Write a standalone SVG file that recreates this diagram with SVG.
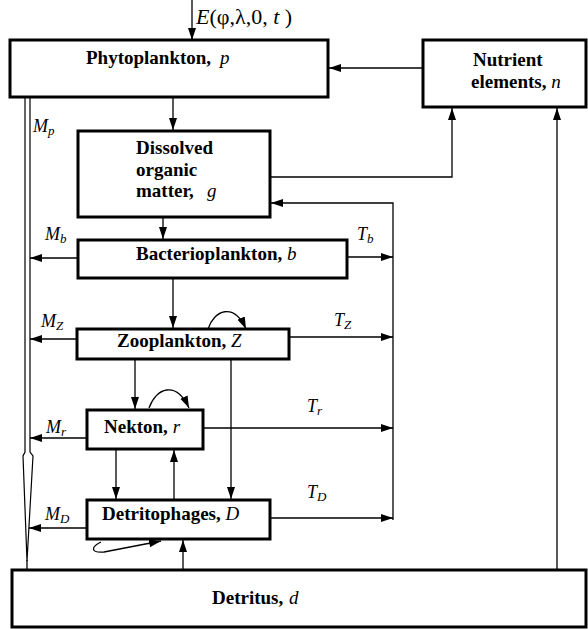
<svg xmlns="http://www.w3.org/2000/svg" width="588" height="630" viewBox="0 0 588 630">
  <style>
    .box { fill: #fff; stroke: #000; stroke-width: 3; }
    .ln { fill: none; stroke: #000; stroke-width: 1.3; }
    .arr { fill: none; stroke: #000; stroke-width: 1.3; marker-end: url(#ah); }
    .t { font-family: "Liberation Serif", "Times New Roman", serif; font-weight: bold; font-size: 19px; fill: #000; }
    .v { font-style: italic; font-weight: normal; }
    .lab { font-family: "Liberation Serif", "Times New Roman", serif; font-style: italic; font-size: 18px; fill: #000; }
    .sub { font-size: 13px; }
  </style>
  <defs>
    <marker id="ah" markerUnits="userSpaceOnUse" markerWidth="14" markerHeight="10" refX="12" refY="4" orient="auto">
      <path d="M0 0 L12 4 L0 8 Z" fill="#000"/>
    </marker>
  </defs>
  <rect width="588" height="630" fill="#fff"/>

  <!-- connectors -->
  <g id="connectors">
    <!-- external forcing -->
    <line class="arr" x1="192" y1="0" x2="192" y2="40"/>
    <!-- nutrients to phytoplankton -->
    <line class="arr" x1="423" y1="68" x2="329" y2="68"/>
    <!-- phytoplankton to DOM -->
    <line class="arr" x1="173" y1="97" x2="173" y2="130"/>
    <!-- DOM to nutrients -->
    <polyline class="arr" points="270,177 452,177 452,108"/>
    <!-- detritus to nutrients -->
    <line class="arr" x1="557" y1="570" x2="557" y2="108"/>
    <!-- transport collector back to DOM -->
    <polyline class="arr" points="393,520 393,203 271,203"/>
    <!-- DOM to bacteria -->
    <line class="arr" x1="163" y1="217" x2="163" y2="239"/>
    <!-- bacteria to zooplankton -->
    <line class="arr" x1="173" y1="278" x2="173" y2="328"/>
    <!-- zooplankton to nekton -->
    <line class="arr" x1="135" y1="359" x2="135" y2="409"/>
    <!-- zooplankton to detritophages -->
    <line class="arr" x1="231" y1="359" x2="231" y2="499"/>
    <!-- nekton to detritophages -->
    <line class="arr" x1="116" y1="449" x2="116" y2="499"/>
    <!-- detritophages to nekton -->
    <line class="arr" x1="174" y1="500" x2="174" y2="450"/>
    <!-- detritus to detritophages -->
    <line class="arr" x1="183" y1="570" x2="183" y2="540"/>
    <!-- self loops -->
    <path class="arr" d="M208 329 C214 310, 234 302, 246 329"/>
    <path class="arr" d="M149 408 C156 388, 176 380, 189 408"/>
    <path class="arr" d="M101 542 C91 547, 90 553, 104 552 L161 541"/>
    <!-- mortality outflows -->
    <line class="arr" x1="78" y1="258" x2="30" y2="258"/>
    <line class="arr" x1="77" y1="339" x2="30" y2="339"/>
    <line class="arr" x1="87" y1="438" x2="30" y2="438"/>
    <line class="arr" x1="87" y1="528" x2="29" y2="528"/>
    <!-- transport outflows -->
    <line class="arr" x1="347" y1="257" x2="393" y2="257"/>
    <line class="arr" x1="289" y1="337" x2="393" y2="337"/>
    <line class="arr" x1="203" y1="428" x2="393" y2="428"/>
    <line class="arr" x1="270" y1="518" x2="393" y2="518"/>
    <!-- mortality channel down to detritus -->
    <path d="M25 97 V452 L23 456 L27 561 L33 456 L30 452 V97" fill="#fff" stroke="#000" stroke-width="1.2"/>
    <line class="ln" x1="27" y1="560" x2="27" y2="570"/>
  </g>

  <!-- nodes -->
  <g id="phytoplankton">
    <rect class="box" x="10" y="40" width="318" height="57"/>
    <text class="t" x="86" y="64" word-spacing="4">Phytoplankton, <tspan class="v">p</tspan></text>
  </g>
  <g id="nutrients">
    <rect class="box" x="423" y="40" width="163" height="67"/>
    <text class="t" x="473" y="66">Nutrient</text>
    <text class="t" x="471" y="88">elements, <tspan class="v">n</tspan></text>
  </g>
  <g id="dom">
    <rect class="box" x="78" y="131" width="192" height="86"/>
    <text class="t" x="136" y="154">Dissolved</text>
    <text class="t" x="136" y="176">organic</text>
    <text class="t" x="136" y="197">matter, <tspan class="v" x="207">g</tspan></text>
  </g>
  <g id="bacterioplankton">
    <rect class="box" x="78" y="240" width="269" height="38"/>
    <text class="t" x="136" y="260">Bacterioplankton, <tspan class="v">b</tspan></text>
  </g>
  <g id="zooplankton">
    <rect class="box" x="77" y="329" width="212" height="30"/>
    <text class="t" x="117" y="347">Zooplankton, <tspan class="v">Z</tspan></text>
  </g>
  <g id="nekton">
    <rect class="box" x="87" y="410" width="116" height="39"/>
    <text class="t" x="104" y="433">Nekton, <tspan class="v">r</tspan></text>
  </g>
  <g id="detritophages">
    <rect class="box" x="87" y="500" width="183" height="39"/>
    <text class="t" x="102" y="520">Detritophages, <tspan class="v">D</tspan></text>
  </g>
  <g id="detritus">
    <rect class="box" x="12" y="570" width="574" height="57"/>
    <text class="t" x="212" y="604">Detritus, <tspan class="v" x="289">d</tspan></text>
  </g>

  <!-- flux labels -->
  <g id="labels">
    <text class="lab" x="196" y="24" style="font-size:22px"><tspan>E</tspan><tspan font-style="normal">(φ,λ,0, </tspan><tspan>t</tspan><tspan font-style="normal"> )</tspan></text>
    <text class="lab" x="33" y="132">M<tspan class="sub" dy="3">p</tspan></text>
    <text class="lab" x="45" y="240">M<tspan class="sub" dy="3">b</tspan></text>
    <text class="lab" x="41" y="327">M<tspan class="sub" dy="3">Z</tspan></text>
    <text class="lab" x="46" y="433">M<tspan class="sub" dy="3">r</tspan></text>
    <text class="lab" x="45" y="520">M<tspan class="sub" dy="3">D</tspan></text>
    <text class="lab" x="357" y="240">T<tspan class="sub" dy="3">b</tspan></text>
    <text class="lab" x="334" y="326">T<tspan class="sub" dy="3">Z</tspan></text>
    <text class="lab" x="307" y="412">T<tspan class="sub" dy="3">r</tspan></text>
    <text class="lab" x="307" y="498">T<tspan class="sub" dy="3">D</tspan></text>
  </g>
</svg>
